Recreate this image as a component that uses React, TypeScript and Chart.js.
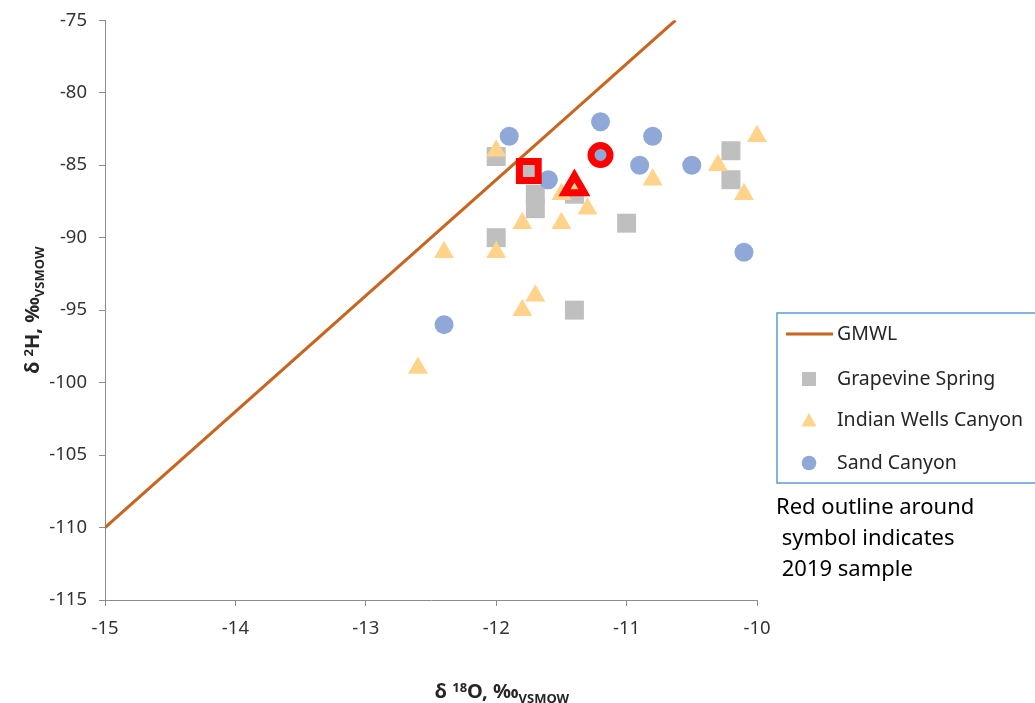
import React, { useEffect, useRef } from "react";
import { Chart, registerables } from "chart.js";

Chart.register(...registerables);

// ---- data ----
const xTickValues = [-15, -14, -13, -12, -11, -10];
const yTickValues = [-75, -80, -85, -90, -95, -100, -105, -110, -115];

const gmwlX = [-15, -10.625];
const gmwlY = [-110, -75];

const grapevineX = [-12.0, -11.7, -11.7, -11.4, -12.0, -11.0, -11.4, -10.2, -10.2];
const grapevineY = [-84.4, -87, -88, -87, -90, -89, -95, -84, -86];

const indianX = [-12.0, -10.0, -10.3, -10.1, -10.8, -11.5, -11.3, -11.8, -11.5, -12.4, -12.0, -11.7, -11.8, -12.6];
const indianY = [-84, -83, -85, -87, -86, -87, -88, -89, -89, -91, -91, -94, -95, -99];

const sandX = [-11.9, -11.2, -10.8, -10.9, -10.5, -11.6, -10.1, -12.4];
const sandY = [-83, -82, -83, -85, -85, -86, -91, -96];

const grapevine2019X = [-11.75];
const grapevine2019Y = [-85.4];
const indian2019X = [-11.4];
const indian2019Y = [-86.5];
const sand2019X = [-11.2];
const sand2019Y = [-84.3];

const seriesNames = ["GMWL", "Grapevine Spring", "Indian Wells Canyon", "Sand Canyon"];
const noteLines = ["Red outline around", " symbol indicates", " 2019 sample"];

// ---- styles ----
const LINE_COLOR = "#C8651F";
const GRAY = "#BFBFBF";
const ORANGE = "#FFD38A";
const BLUE = "#8FA8D8";
const RED = "#FF0000";
const AXIS = "#8C8C8C";
const FONT = "'Noto Sans', sans-serif";

const zip = (xs: number[], ys: number[]) => xs.map((x, i) => ({ x, y: ys[i] }));

type Part = { t: string; k: "n" | "sup" | "sub" };

function drawRich(ctx: CanvasRenderingContext2D, parts: Part[], size: number, small: number) {
  const fontFor = (k: string) => `bold ${k === "n" ? size : small}px ${FONT}`;
  let total = 0;
  for (const p of parts) {
    ctx.font = fontFor(p.k);
    total += ctx.measureText(p.t).width;
  }
  let x = -total / 2;
  ctx.textBaseline = "alphabetic";
  ctx.textAlign = "left";
  for (const p of parts) {
    ctx.font = fontFor(p.k);
    const dy = p.k === "sup" ? -size * 0.3 : p.k === "sub" ? size * 0.22 : 0;
    ctx.fillText(p.t, x, size * 0.36 + dy);
    x += ctx.measureText(p.t).width;
  }
}

const overlayPlugin = {
  id: "overlay",
  afterDraw(chart: any) {
    const ctx: CanvasRenderingContext2D = chart.ctx;
    const area = chart.chartArea;
    ctx.save();

    // axis titles
    ctx.fillStyle = "#262626";
    ctx.save();
    ctx.translate(502, 691);
    drawRich(ctx, [
      { t: "δ ", k: "n" },
      { t: "18", k: "sup" },
      { t: "O, ‰", k: "n" },
      { t: "VSMOW", k: "sub" },
    ], 20, 13);
    ctx.restore();

    ctx.save();
    ctx.translate(32, (area.top + area.bottom) / 2);
    ctx.rotate(-Math.PI / 2);
    drawRich(ctx, [
      { t: "δ ", k: "n" },
      { t: "2", k: "sup" },
      { t: "H, ‰", k: "n" },
      { t: "VSMOW", k: "sub" },
    ], 20, 13);
    ctx.restore();

    // legend box
    const lx = area.right + 20;
    const ly = 313;
    ctx.strokeStyle = "#5B9BD5";
    ctx.lineWidth = 1.5;
    ctx.strokeRect(lx, ly, 320, 170);

    const symX = lx + 32;
    const textX = lx + 60;
    const rows = [334, 379, 420, 463];
    ctx.font = `19.5px ${FONT}`;
    ctx.textBaseline = "middle";
    ctx.textAlign = "left";
    rows.forEach((ry, i) => {
      ctx.fillStyle = "#262626";
      ctx.fillText(seriesNames[i], textX, ry);
      if (i === 0) {
        ctx.strokeStyle = LINE_COLOR;
        ctx.lineWidth = 3;
        ctx.beginPath();
        ctx.moveTo(lx + 9, ry);
        ctx.lineTo(lx + 56, ry);
        ctx.stroke();
      } else if (i === 1) {
        ctx.fillStyle = GRAY;
        ctx.fillRect(symX - 7, ry - 7, 14, 14);
      } else if (i === 2) {
        ctx.fillStyle = ORANGE;
        ctx.beginPath();
        ctx.moveTo(symX, ry - 7);
        ctx.lineTo(symX + 7.5, ry + 6.5);
        ctx.lineTo(symX - 7.5, ry + 6.5);
        ctx.closePath();
        ctx.fill();
      } else {
        ctx.fillStyle = BLUE;
        ctx.beginPath();
        ctx.arc(symX, ry, 7.3, 0, Math.PI * 2);
        ctx.fill();
      }
    });

    // note
    ctx.fillStyle = "#000";
    ctx.font = `22px ${FONT}`;
    noteLines.forEach((t, i) => {
      ctx.fillText(t, lx - 1, 508 + i * 31);
    });

    ctx.restore();
  },
};

export default function App() {
  const ref = useRef<HTMLCanvasElement | null>(null);

  useEffect(() => {
    if (!ref.current) return;
    const tickFont = { family: FONT, size: 18.5 };
    const chart = new Chart(ref.current, {
      type: "scatter",
      data: {
        datasets: [
          {
            label: "Sand Canyon 2019",
            data: zip(sand2019X, sand2019Y),
            backgroundColor: BLUE,
            borderColor: RED,
            borderWidth: 7,
            pointRadius: 9.5,
            pointStyle: "circle",
            clip: false,
            order: 0,
          },
          {
            label: "Indian Wells Canyon 2019",
            data: zip(indian2019X, indian2019Y),
            backgroundColor: ORANGE,
            borderColor: RED,
            borderWidth: 7,
            pointRadius: 11.5,
            pointStyle: "triangle",
            clip: false,
            order: 1,
          },
          {
            label: "Grapevine Spring 2019",
            data: zip(grapevine2019X, grapevine2019Y),
            backgroundColor: GRAY,
            borderColor: RED,
            borderWidth: 7,
            pointRadius: 13.3,
            pointStyle: "rect",
            clip: false,
            order: 2,
          },
          {
            label: seriesNames[3],
            data: zip(sandX, sandY),
            backgroundColor: BLUE,
            borderWidth: 0,
            pointRadius: 9.5,
            pointStyle: "circle",
            clip: false,
            order: 3,
          },
          {
            label: seriesNames[2],
            data: zip(indianX, indianY),
            backgroundColor: ORANGE,
            borderWidth: 0,
            pointRadius: 11.5,
            pointStyle: "triangle",
            clip: false,
            order: 4,
          },
          {
            label: seriesNames[1],
            data: zip(grapevineX, grapevineY),
            backgroundColor: GRAY,
            borderWidth: 0,
            pointRadius: 13.4,
            pointStyle: "rect",
            clip: false,
            order: 5,
          },
          {
            type: "line",
            label: seriesNames[0],
            data: zip(gmwlX, gmwlY),
            borderColor: LINE_COLOR,
            borderWidth: 3,
            pointRadius: 0,
            showLine: true,
            fill: false,
            order: 6,
          } as any,
        ],
      },
      options: {
        responsive: false,
        animation: false,
        events: [],
        layout: { padding: { left: 0, top: 18, right: 278, bottom: 0 } },
        plugins: { legend: { display: false }, tooltip: { enabled: false } },
        scales: {
          x: {
            type: "linear",
            min: xTickValues[0],
            max: xTickValues[xTickValues.length - 1],
            afterBuildTicks: (s: any) => {
              s.ticks = xTickValues.map((v) => ({ value: v }));
            },
            afterFit: (s: any) => {
              s.height = 103;
              s.paddingLeft = 0;
              s.paddingRight = 0;
            },
            ticks: { font: tickFont, color: "#333", padding: 12 },
            grid: { drawOnChartArea: false, drawTicks: true, tickLength: 6, color: AXIS },
            border: { display: true, color: AXIS, width: 1 },
          },
          y: {
            type: "linear",
            min: yTickValues[yTickValues.length - 1],
            max: yTickValues[0],
            afterBuildTicks: (s: any) => {
              s.ticks = yTickValues.map((v) => ({ value: v }));
            },
            afterFit: (s: any) => {
              s.width = 105;
              s.paddingTop = 0;
              s.paddingBottom = 0;
            },
            ticks: { font: tickFont, color: "#333", padding: 12 },
            grid: { drawOnChartArea: false, drawTicks: true, tickLength: 6, color: AXIS },
            border: { display: true, color: AXIS, width: 1 },
          },
        },
      },
      plugins: [overlayPlugin],
    });
    return () => chart.destroy();
  }, []);

  return (
    <div style={{ position: "absolute", left: 0, top: 0, width: 1035, height: 703, background: "#fff" }}>
      <canvas ref={ref} width={1035} height={703} style={{ display: "block" }} />
    </div>
  );
}
